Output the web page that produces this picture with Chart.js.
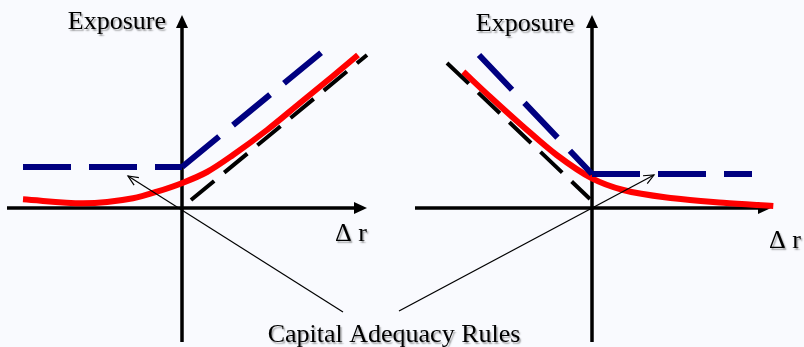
<!DOCTYPE html>
<html>
<head>
<meta charset="utf-8">
<script src="https://cdn.jsdelivr.net/npm/chart.js@4/dist/chart.umd.min.js"></script>
<style>
  html, body { margin: 0; padding: 0; background: #f9fafe; }
  #wrap { position: relative; width: 804px; height: 347px; }
  canvas { display: block; }
</style>
</head>
<body>
<div id="wrap"><canvas id="c" width="804" height="347"></canvas></div>
<script>
// ---- Data (units: Δr on x, exposure on y; origin of each panel at 0,0) ----
// Left panel
const leftBlueFlat  = [{x:-1.59, y:0.41}, {x:0, y:0.41}];
const leftBlueSlope = [{x:0, y:0.41}, {x:1.40, y:1.56}];
const leftBlack     = [{x:0.09, y:0.08}, {x:1.85, y:1.53}];
const leftRed       = [{x:-1.59,y:0.087},{x:-0.99,y:0.047},{x:-0.49,y:0.097},{x:-0.25,y:0.163},{x:0.01,y:0.253},
                       {x:0.25,y:0.36},{x:0.51,y:0.53},{x:0.85,y:0.78},{x:1.18,y:1.05},{x:1.51,y:1.32},{x:1.76,y:1.53}];
// Right panel
const rightBlueSlope = [{x:-1.13, y:1.53}, {x:0, y:0.34}];
const rightBlueFlat  = [{x:0, y:0.34}, {x:1.60, y:0.34}];
const rightBlack     = [{x:-1.45, y:1.45}, {x:-0.02, y:0.09}];
const rightRed       = [{x:-1.287,y:1.363},{x:-1.02,y:1.113},{x:-0.687,y:0.813},{x:-0.353,y:0.53},{x:0,y:0.297},
                        {x:0.313,y:0.18},{x:0.813,y:0.097},{x:1.313,y:0.053},{x:1.813,y:0.02}];
// Axis extents per panel
const leftAxisX  = [-1.75, 1.85];
const rightAxisX = [-1.77, 1.79];
const axisY      = [-1.34, 1.93];
// Labels
const yLabel = "Exposure";
const xLabel = "\u0394 r";
const caption = "Capital Adequacy Rules";
// Annotation arrow targets (data units of each panel) and starts
const leftArrow  = {from:{x:1.61, y:-1.04}, to:{x:-0.54, y:0.32}};
const rightArrow = {from:{x:-1.93, y:-1.03}, to:{x:0.62, y:0.33}};

const BLUE = '#000080', RED = '#ff0000', BLACK = '#000000';

function ds(data, color, width, dash, axis, smooth) {
  return { data, borderColor: color, borderWidth: width, borderDash: dash || [],
           xAxisID: axis, yAxisID: 'y', showLine: true, pointRadius: 0,
           tension: smooth ? 0.4 : 0, cubicInterpolationMode: smooth ? 'monotone' : 'default',
           fill: false, borderCapStyle: 'butt', borderJoinStyle: 'round' };
}

function arrowHead(ctx, x1, y1, x2, y2, len, wid) {
  const a = Math.atan2(y2 - y1, x2 - x1);
  ctx.beginPath();
  ctx.moveTo(x2, y2);
  ctx.lineTo(x2 - len*Math.cos(a) + wid/2*Math.sin(a), y2 - len*Math.sin(a) - wid/2*Math.cos(a));
  ctx.lineTo(x2 - len*Math.cos(a) - wid/2*Math.sin(a), y2 - len*Math.sin(a) + wid/2*Math.cos(a));
  ctx.closePath();
  ctx.fill();
}

const axesPlugin = {
  id: 'axesPlugin',
  beforeDatasetsDraw(chart) {
    const ctx = chart.ctx, y = chart.scales.y;
    ctx.save();
    ctx.strokeStyle = BLACK; ctx.fillStyle = BLACK; ctx.lineWidth = 3.5;
    [['xL', leftAxisX], ['xR', rightAxisX]].forEach(([id, ext]) => {
      const xs = chart.scales[id];
      const x0 = xs.getPixelForValue(0), y0 = y.getPixelForValue(0);
      const xa = xs.getPixelForValue(ext[0]), xb = xs.getPixelForValue(ext[1]);
      const ya = y.getPixelForValue(axisY[0]), yb = y.getPixelForValue(axisY[1]);
      ctx.beginPath(); ctx.moveTo(xa, y0); ctx.lineTo(xb - 10, y0); ctx.stroke();
      arrowHead(ctx, xa, y0, xb, y0, 13, 12);
      ctx.beginPath(); ctx.moveTo(x0, ya); ctx.lineTo(x0, yb + 10); ctx.stroke();
      arrowHead(ctx, x0, ya, x0, yb, 13, 12);
    });
    ctx.restore();
  },
  afterDatasetsDraw(chart) {
    const ctx = chart.ctx, y = chart.scales.y, xL = chart.scales.xL, xR = chart.scales.xR;
    ctx.save();
    // annotation arrows
    ctx.strokeStyle = BLACK; ctx.lineWidth = 1.2;
    [[xL, leftArrow], [xR, rightArrow]].forEach(([xs, a]) => {
      const x1 = xs.getPixelForValue(a.from.x), y1 = y.getPixelForValue(a.from.y);
      const x2 = xs.getPixelForValue(a.to.x),   y2 = y.getPixelForValue(a.to.y);
      ctx.beginPath(); ctx.moveTo(x1, y1); ctx.lineTo(x2, y2); ctx.stroke();
      const ang = Math.atan2(y2 - y1, x2 - x1);
      ctx.beginPath();
      ctx.moveTo(x2 - 11*Math.cos(ang - 0.42), y2 - 11*Math.sin(ang - 0.42));
      ctx.lineTo(x2, y2);
      ctx.lineTo(x2 - 11*Math.cos(ang + 0.42), y2 - 11*Math.sin(ang + 0.42));
      ctx.stroke();
    });
    // text
    ctx.fillStyle = BLACK;
    ctx.shadowColor = 'rgba(0,0,0,0.35)'; ctx.shadowOffsetX = 1.5; ctx.shadowOffsetY = 1.5; ctx.shadowBlur = 1.5;
    ctx.font = '26px "Liberation Serif", "Times New Roman", serif';
    ctx.textBaseline = 'alphabetic';
    ctx.textAlign = 'right';
    ctx.fillText(yLabel, xL.getPixelForValue(0) - 16, y.getPixelForValue(1.79));
    ctx.fillText(yLabel, xR.getPixelForValue(0) - 18, y.getPixelForValue(1.77));
    ctx.textAlign = 'left';
    ctx.fillText(xLabel, xL.getPixelForValue(1.53), y.getPixelForValue(-0.33));
    ctx.fillText(xLabel, xR.getPixelForValue(1.77), y.getPixelForValue(-0.40));
    ctx.textAlign = 'center';
    ctx.fillText(caption, (xL.getPixelForValue(0) + xR.getPixelForValue(0)) / 2 + 7, y.getPixelForValue(-1.34));
    ctx.restore();
  }
};

new Chart(document.getElementById('c'), {
  type: 'scatter',
  data: {
    datasets: [
      ds(leftBlack, BLACK, 4, [30, 13], 'xL'),
      ds(leftBlueFlat, BLUE, 6, [48, 18], 'xL'),
      ds(leftBlueSlope, BLUE, 6, [48, 18], 'xL'),
      ds(leftRed, RED, 6, null, 'xL', true),
      ds(rightBlack, BLACK, 4, [30, 13], 'xR'),
      ds(rightBlueSlope, BLUE, 6, [48, 18], 'xR'),
      ds(rightBlueFlat, BLUE, 6, [48, 18], 'xR'),
      ds(rightRed, RED, 6, null, 'xR', true)
    ]
  },
  options: {
    responsive: false, animation: false, maintainAspectRatio: false,
    layout: { padding: 0 },
    plugins: { legend: { display: false }, tooltip: { enabled: false } },
    scales: {
      xL: { type: 'linear', position: 'bottom', min: -1.82, max: 6.22, display: false },
      xR: { type: 'linear', position: 'bottom', min: -5.92, max: 2.12, display: false },
      y:  { type: 'linear', min: -1.39, max: 2.08, display: false }
    }
  },
  plugins: [axesPlugin]
});
</script>
</body>
</html>
